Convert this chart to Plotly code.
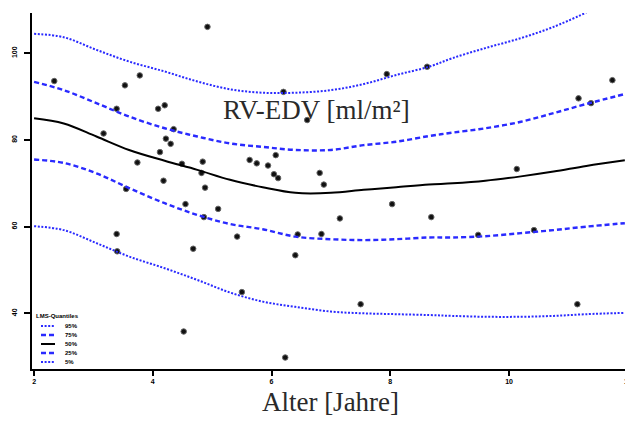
import plotly.graph_objects as go

# ---- data ----
pt_age = [4.92, 2.34, 3.78, 3.53, 3.39, 4.09, 4.20, 4.35, 3.17, 4.22, 4.30, 4.12, 3.74, 4.49,
          4.84, 4.82, 4.18, 5.63, 3.55, 4.88, 4.55, 5.10, 4.86, 3.39, 5.42, 3.40, 4.68, 5.50,
          4.52, 6.20, 7.94, 8.62, 6.07, 5.75, 5.94, 6.04, 6.11, 6.81, 6.88, 8.03, 7.15, 6.44,
          6.84, 6.40, 7.50, 6.23, 11.74, 11.17, 11.38, 10.13, 8.69, 9.48, 10.42, 11.15, 6.60]
pt_edv = [106.1, 93.6, 94.9, 92.6, 87.2, 87.2, 88.0, 82.5, 81.5, 80.3, 79.1, 77.2, 74.8, 74.5,
          75.0, 72.4, 70.6, 75.4, 68.7, 69.0, 65.2, 64.1, 62.2, 58.3, 57.7, 54.3, 54.9, 44.9,
          35.8, 91.1, 95.2, 96.9, 76.5, 74.6, 74.1, 72.1, 71.2, 72.4, 69.7, 65.2, 61.9, 58.2,
          58.3, 53.4, 42.1, 29.8, 93.8, 89.6, 88.5, 73.3, 62.2, 58.1, 59.2, 42.1, 84.6]

curve_age = [2.0, 2.5, 3.05, 3.6, 4.2, 4.75, 5.3, 5.85, 6.4, 7.0, 7.55, 8.1, 8.65, 9.05,
             9.6, 10.2, 10.75, 11.3, 11.95]
q95 = [104.5, 103.7, 100.8, 98.1, 95.8, 93.5, 91.7, 90.9, 90.9, 91.5, 92.9, 95.0, 96.9, 98.9,
       101.2, 103.5, 106.1, 109.4, None]
q75 = [93.4, 91.5, 88.5, 85.4, 82.7, 80.8, 79.2, 78.4, 77.7, 77.7, 78.8, 79.6, 80.9, 81.7,
       82.7, 84.2, 86.2, 88.3, 90.6]
q50 = [85.0, 83.8, 80.8, 77.7, 75.2, 73.1, 70.8, 69.1, 67.8, 67.8, 68.5, 69.1, 69.7, 70.0,
       70.6, 71.6, 72.7, 74.0, 75.3]
q25 = [75.5, 74.7, 72.3, 68.9, 65.4, 62.7, 60.6, 59.4, 57.7, 57.1, 56.9, 57.1, 57.5, 57.5,
       57.8, 58.5, 59.2, 60.0, 60.8]
q05 = [60.1, 59.2, 56.2, 53.1, 50.4, 47.7, 44.8, 42.7, 41.5, 40.4, 40.0, 39.8, 39.6, 39.4,
       39.2, 39.2, 39.4, 39.8, 40.1]

quant_names = ["95%", "75%", "50%", "25%", "5%"]
x_ticks = [2, 4, 6, 8, 10, 12]
y_ticks = [40, 60, 80, 100]

BLUE = "#2a2aff"
DOT = "2px,1.6px"
DASH = "5px,3px"
line_styles = [(BLUE, DOT, 2.0), (BLUE, DASH, 2.4), ("black", "solid", 2.0),
               (BLUE, DASH, 2.4), (BLUE, DOT, 2.0)]

# page has an 8px body margin: the figure is drawn 8px right/down
OFF = 8
FIG_W, FIG_H = 633 - OFF, 425 - OFF
L_PX, T_PX, W_PX, H_PX = 32 - OFF, 13 - OFF, 597, 356

fig = go.Figure()

fig.add_trace(go.Scatter(x=pt_age, y=pt_edv, mode="markers", showlegend=False,
                         marker=dict(size=5.5, color="#111111",
                                     line=dict(color="#666666", width=1))))

for name, vals, (col, dash, w) in zip(quant_names, [q95, q75, q50, q25, q05], line_styles):
    fig.add_trace(go.Scatter(x=curve_age, y=vals, mode="lines", name=name, showlegend=False,
                             line=dict(color=col, dash=dash, width=w, shape="spline")))


def px2paper(px, py):
    # px, py in page pixels
    return (px - OFF - L_PX) / W_PX, (T_PX + H_PX - (py - OFF)) / H_PX


# ---- compact legend ----
tx, ty = px2paper(34, 316)
fig.add_annotation(xref="paper", yref="paper", x=tx, y=ty, xanchor="left", yanchor="middle",
                   text="<b>LMS-Quantiles</b>", showarrow=False,
                   font=dict(size=6, color="black", family="Liberation Sans"))
for i, (name, (col, dash, w)) in enumerate(zip(quant_names, line_styles)):
    py = 326 + i * 9
    x0, y0 = px2paper(41, py)
    x1, _ = px2paper(55, py)
    fig.add_shape(type="line", xref="paper", yref="paper", x0=x0, x1=x1, y0=y0, y1=y0,
                  line=dict(color=col, dash=dash, width=w))
    lx, _ = px2paper(63, py)
    fig.add_annotation(xref="paper", yref="paper", x=lx, y=y0, xanchor="left",
                       yanchor="middle", text=f"<b>{name}</b>", showarrow=False,
                       font=dict(size=6, color="black", family="Liberation Sans"))

fig.add_annotation(x=6.75, y=87.0, text="RV-EDV [ml/m²]", showarrow=False,
                   font=dict(family="Liberation Serif", size=27, color="#2a2a2a"))

fig.update_layout(
    width=FIG_W, height=FIG_H,
    margin=dict(l=L_PX, r=FIG_W - L_PX - W_PX, t=T_PX, b=FIG_H - T_PX - H_PX),
    paper_bgcolor="white", plot_bgcolor="white",
    showlegend=False,
    xaxis=dict(range=[1.965, 12.02], tickvals=x_ticks, automargin=False,
               ticktext=[f"<b>{v}</b>" for v in x_ticks],
               showline=True, linecolor="black", linewidth=2, showgrid=False,
               zeroline=False, ticks="outside", ticklen=5, tickwidth=2, tickcolor="black",
               tickfont=dict(size=7, color="black", family="Liberation Sans"),
               title=dict(text="Alter [Jahre]", standoff=8,
                          font=dict(family="Liberation Serif", size=27, color="#2a2a2a"))),
    yaxis=dict(range=[27.15, 109.3], tickvals=y_ticks, automargin=False,
               ticktext=[f"<b>{v}</b>" for v in y_ticks], tickangle=-90,
               showline=True, linecolor="black", linewidth=2, showgrid=False,
               zeroline=False, ticks="outside", ticklen=6, tickwidth=2, tickcolor="black",
               ticklabelstandoff=4,
               tickfont=dict(size=7, color="black", family="Liberation Sans")),
)

fig.write_html("out.html")
